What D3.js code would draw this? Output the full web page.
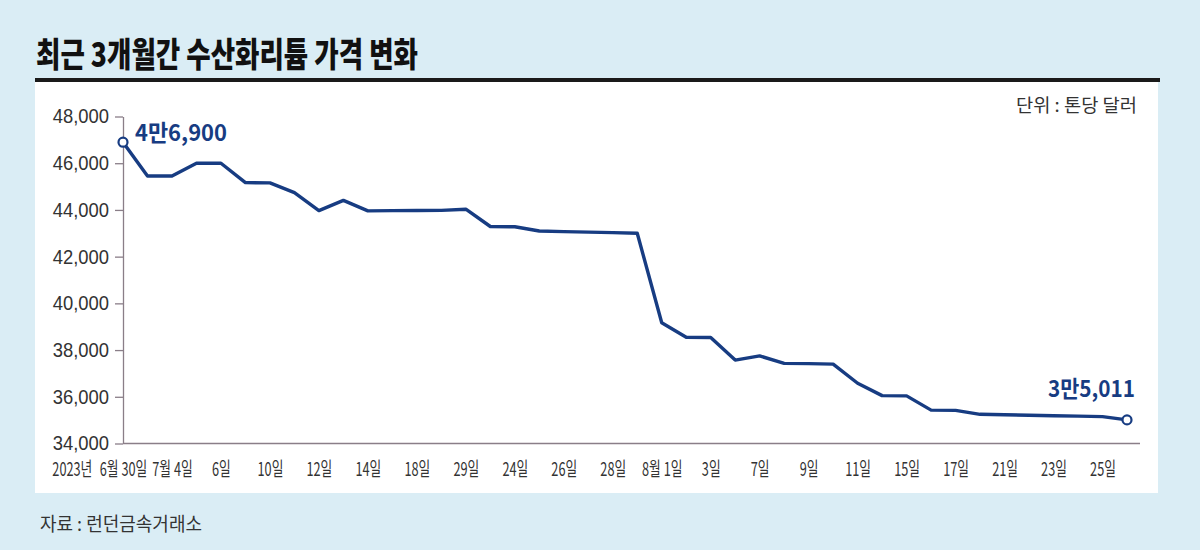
<!DOCTYPE html>
<html><head><meta charset="utf-8">
<script src="https://cdn.jsdelivr.net/npm/d3@7/dist/d3.min.js"></script>
<style>
html,body{margin:0;padding:0;background:#daedf5;}
svg{display:block;}
</style></head>
<body>
<svg id="chart" width="1200" height="550"></svg>
<script>
// ---- data ----
const title = "최근 3개월간 수산화리튬 가격 변화";
const unitText = "단위 : 톤당 달러";
const sourceText = "자료 : 런던금속거래소";
const yearLabel = "2023년";
const dates = ["6/30","7/3","7/4","7/5","7/6","7/7","7/10","7/11","7/12","7/13","7/14","7/17","7/18","7/19","7/20","7/21","7/24","7/25","7/26","7/27","7/28","7/31","8/1","8/2","8/3","8/4","8/7","8/8","8/9","8/10","8/11","8/14","8/15","8/16","8/17","8/18","8/21","8/22","8/23","8/24","8/25","8/28"];
const prices = [46900,45450,45450,46000,46000,45170,45160,44740,43970,44410,43960,43970,43975,43980,44030,43290,43280,43100,43070,43050,43030,43000,39170,38550,38540,37570,37750,37430,37420,37400,36580,36050,36040,35430,35420,35250,35230,35210,35190,35170,35150,35011];
const tickIdx = [0,2,4,6,8,10,12,14,16,18,20,22,24,26,28,30,32,34,36,38,40];
const tickLabels = ["6월 30일","7월 4일","6일","10일","12일","14일","18일","29일","24일","26일","28일","8월 1일","3일","7일","9일","11일","15일","17일","21일","23일","25일"];
const yTicks = [34000,36000,38000,40000,42000,44000,46000,48000];
const startLabel = "4만6,900";
const endLabel = "3만5,011";

// ---- layout ----
const svg = d3.select("#chart");
const navy = "#173c82";
const axisColor = "#8a7e88";
const kfont = "'Noto Sans CJK KR', 'Noto Sans', sans-serif";
const nfont = "'Liberation Sans', Arial, sans-serif";
const xSq = 0.67;

function squeeze(sel, f){
  sel.each(function(){
    const w = this.getComputedTextLength();
    this.setAttribute("textLength", w*f);
    this.setAttribute("lengthAdjust","spacingAndGlyphs");
  });
}
function fit(sel, w){
  sel.attr("textLength", w).attr("lengthAdjust","spacingAndGlyphs");
}

// white panel
svg.append("rect").attr("x",35).attr("y",81).attr("width",1123).attr("height",412).attr("fill","#ffffff");
// title rule
svg.append("rect").attr("x",35).attr("y",78).attr("width",1125).attr("height",4).attr("fill","#1a1a1a");
// title
svg.append("text").attr("x",36).attr("y",67).text(title)
  .attr("font-family",kfont).attr("font-weight",900).attr("font-size",34).attr("fill","#111")
  .call(s=>fit(s,382));
// unit
svg.append("text").attr("x",1137).attr("y",112).attr("text-anchor","end").text(unitText)
  .attr("font-family",kfont).attr("font-size",18).attr("fill","#333")
  .call(s=>fit(s,121));
// source
svg.append("text").attr("x",40).attr("y",531).text(sourceText)
  .attr("font-family",kfont).attr("font-size",19).attr("fill","#333")
  .call(s=>fit(s,162));

const x = d3.scalePoint().domain(d3.range(prices.length)).range([123,1127]);
const y = d3.scaleLinear().domain([34000,48000]).range([443.5,116.5]);

// y axis
const gy = svg.append("g").attr("transform","translate(123,0)")
  .call(d3.axisLeft(y).tickValues(yTicks).tickFormat(d3.format(",")).tickSize(8).tickSizeOuter(0).tickPadding(6));
gy.select(".domain").attr("stroke",axisColor).attr("stroke-width",1.3);
gy.selectAll(".tick line").attr("stroke",axisColor).attr("stroke-width",1.3);
gy.selectAll(".tick text").attr("font-family",nfont).attr("font-size",20).attr("fill","#333")
  .call(s=>squeeze(s,0.92));

// x axis
const labelMap = new Map(tickIdx.map((d,i)=>[d,tickLabels[i]]));
const gx = svg.append("g").attr("transform","translate(0,443.5)")
  .call(d3.axisBottom(x).tickValues(tickIdx).tickFormat(d=>labelMap.get(d)).tickSize(0).tickPadding(19));
gx.select(".domain").remove();
gx.selectAll(".tick text").attr("font-family",kfont).attr("font-size",19).attr("fill","#333")
  .attr("transform",`scale(${xSq},1)`);
svg.append("line").attr("x1",123).attr("x2",1140).attr("y1",y(34000)).attr("y2",y(34000))
  .attr("stroke",axisColor).attr("stroke-width",1.5);

// year prefix to the left of first tick label
const firstText = gx.select(".tick text").node();
const fw = firstText.getComputedTextLength()*xSq;
svg.append("g").attr("transform",`translate(${x(0)-fw/2-7},${443.5+19})`)
  .append("text").attr("dy","0.71em").attr("transform",`scale(${xSq},1)`)
  .attr("text-anchor","end").text(yearLabel)
  .attr("font-family",kfont).attr("font-size",19).attr("fill","#333");

// line
const line = d3.line().x((d,i)=>x(i)).y(d=>y(d));
svg.append("path").datum(prices).attr("d",line).attr("fill","none")
  .attr("stroke",navy).attr("stroke-width",3.4).attr("stroke-linejoin","round");

// end circles
const last = prices.length-1;
svg.selectAll("circle.end").data([0,last]).join("circle").attr("class","end")
  .attr("cx",i=>x(i)).attr("cy",i=>y(prices[i])).attr("r",4.5)
  .attr("fill","#fff").attr("stroke",navy).attr("stroke-width",2.2);

// annotations
svg.append("text").attr("x",x(0)+12).attr("y",y(prices[0])-1).text(startLabel)
  .attr("font-family",kfont).attr("font-weight",700).attr("font-size",23).attr("fill",navy)
  .call(s=>fit(s,92));
svg.append("text").attr("x",x(last)+8).attr("y",y(prices[last])-23).attr("text-anchor","end").text(endLabel)
  .attr("font-family",kfont).attr("font-weight",700).attr("font-size",23).attr("fill",navy)
  .call(s=>fit(s,87));
</script>
</body></html>
